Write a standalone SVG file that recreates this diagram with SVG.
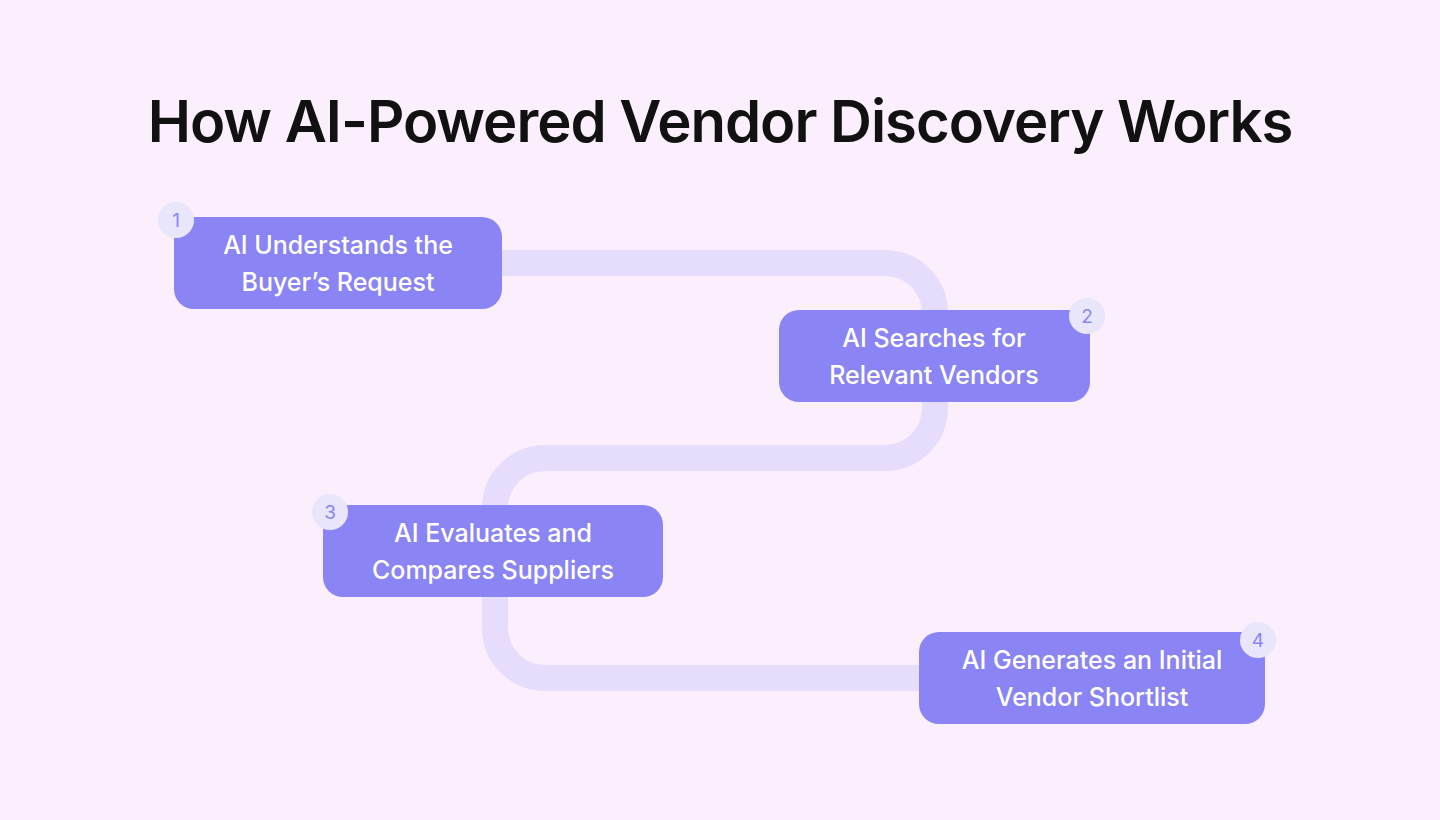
<svg xmlns="http://www.w3.org/2000/svg" width="1440" height="820" viewBox="0 0 1440 820">
<style>
.box{fill:#8b84f4}
.badge{fill:#e9e6fb}
.num{font-family:Inter,"Liberation Sans",sans-serif;font-size:19px;fill:#8b84f4;text-anchor:middle}
.lbl{font-family:Inter,"Liberation Sans",sans-serif;font-size:25px;font-weight:500;fill:#ffffff;text-anchor:middle}
.title{font-family:Inter,"Liberation Sans",sans-serif;font-size:58px;font-weight:600;fill:#111111;text-anchor:middle;letter-spacing:-1px}
</style>
<rect width="1440" height="820" fill="#fbeefd"/>
<text class="title" x="720" y="142">How AI-Powered Vendor Discovery Works</text>
<g id="connectors">
<path d="M500 263 H885 A50 50 0 0 1 935 313 V408 A50 50 0 0 1 885 458 H545 A50 50 0 0 0 495 508 V628 A50 50 0 0 0 545 678 H925" fill="none" stroke="#e6dcfb" stroke-width="26"/>
</g>
<g id="node1">
<rect class="box" x="174" y="217" width="328" height="92" rx="20"/>
<text class="lbl" x="338" y="254">AI Understands the</text>
<text class="lbl" x="338" y="291">Buyer’s Request</text>
<circle class="badge" cx="176" cy="220" r="18"/>
<text class="num" x="176" y="227">1</text>
</g>
<g id="node2">
<rect class="box" x="779" y="310" width="311" height="92" rx="20"/>
<text class="lbl" x="934" y="347">AI Searches for</text>
<text class="lbl" x="934" y="384">Relevant Vendors</text>
<circle class="badge" cx="1087" cy="316" r="18"/>
<text class="num" x="1087" y="323">2</text>
</g>
<g id="node3">
<rect class="box" x="323" y="505" width="340" height="92" rx="20"/>
<text class="lbl" x="493" y="542">AI Evaluates and</text>
<text class="lbl" x="493" y="579">Compares Suppliers</text>
<circle class="badge" cx="330" cy="512" r="18"/>
<text class="num" x="330" y="519">3</text>
</g>
<g id="node4">
<rect class="box" x="919" y="632" width="346" height="92" rx="20"/>
<text class="lbl" x="1092" y="669">AI Generates an Initial</text>
<text class="lbl" x="1092" y="706">Vendor Shortlist</text>
<circle class="badge" cx="1258" cy="640" r="18"/>
<text class="num" x="1258" y="647">4</text>
</g>
</svg>
